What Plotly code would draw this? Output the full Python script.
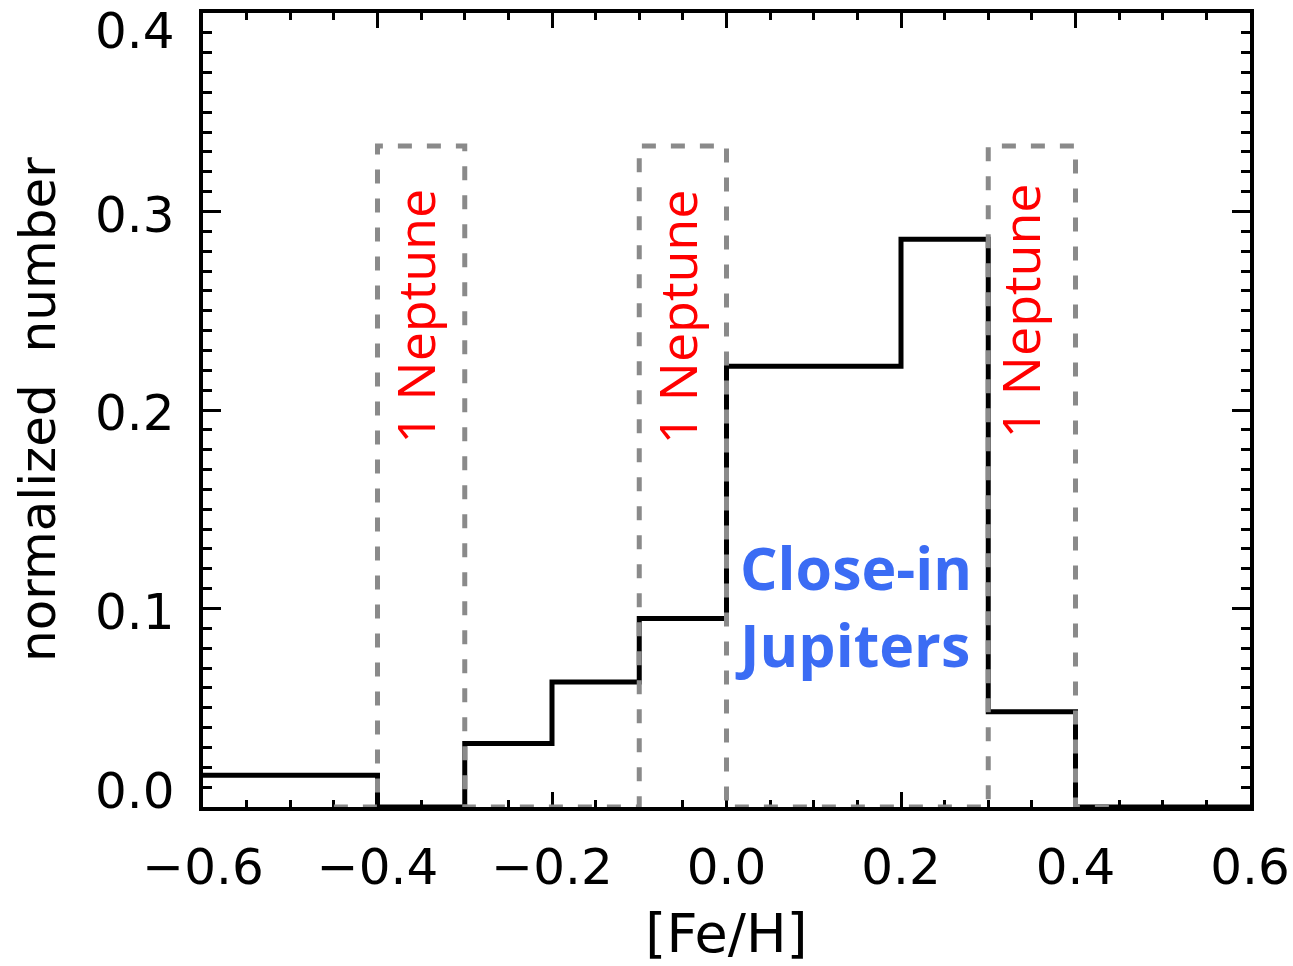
import numpy as np
import plotly.graph_objects as go

# Close-in Jupiter host metallicity histogram (bin width 0.1 dex)
feh_edges = [-0.6, -0.5, -0.4, -0.3, -0.2, -0.1, 0.0, 0.1, 0.2, 0.3, 0.4, 0.5, 0.6]
jupiter_frac = [0.016, 0.016, 0.0, 0.032, 0.063, 0.095, 0.222, 0.222, 0.286, 0.048, 0.0, 0.0]

# Neptune histogram, given at bin centres (drawn as a centred step line)
neptune_centers = [-0.45, -0.35, -0.25, -0.15, -0.05, 0.05, 0.15, 0.25, 0.35, 0.45]
neptune_frac = [0.0, 0.333, 0.0, 0.0, 0.333, 0.0, 0.0, 0.0, 0.333, 0.0]

# Labels for the Neptune boxes: (x, y) in data units
neptune_label_x = [-0.357, -0.057, 0.336]
neptune_label_y = [0.247, 0.247, 0.25]
neptune_label = "1 Neptune"

xtick_vals = [-0.6, -0.4, -0.2, 0.0, 0.2, 0.4, 0.6]
xtick_text = ["\u22120.6", "\u22120.4", "\u22120.2", "0.0", "0.2", "0.4", "0.6"]
ytick_vals = [0.0, 0.1, 0.2, 0.3, 0.4]
ytick_text = ["0.0", "0.1", "0.2", "0.3", "0.4"]

TICK_FONT = dict(family="DejaVu Sans", size=50, color="black")

# step path for the Jupiter histogram (edges -> hv steps)
jx = list(feh_edges)
jy = list(jupiter_frac) + [jupiter_frac[-1]]

# centred step path for the Neptune histogram
nc = np.array(neptune_centers)
mids = list((nc[:-1] + nc[1:]) / 2)
nx = [nc[0]] + mids + [nc[-1]]
ny = [neptune_frac[0]] + list(neptune_frac[1:]) + [neptune_frac[-1]]

fig = go.Figure()
fig.add_trace(go.Scatter(
    x=jx, y=jy, mode="lines", line=dict(shape="hv", color="black", width=5),
    hoverinfo="skip", showlegend=False))
fig.add_trace(go.Scatter(
    x=nx, y=ny, mode="lines",
    line=dict(shape="hv", color="#8a8a8a", width=5, dash="14px,15px"),
    hoverinfo="skip", showlegend=False))

for lx, ly in zip(neptune_label_x, neptune_label_y):
    fig.add_annotation(x=lx, y=ly, xref="x", yref="y", text=neptune_label,
                       textangle=-90, showarrow=False,
                       font=dict(family="Open Sans", size=52, color="#ff0000"))

fig.add_annotation(x=0.145, y=0.1015, xref="x", yref="y",
                   text="<b>Close-in</b><br><b>Jupiters</b>", showarrow=False,
                   align="left",
                   font=dict(family="Open Sans", size=59, color="#3b6cf4"))

# y tick labels, nudged inward at the ends of the axis
y_shift = {0.0: 16, 0.4: -18}
for v, t in zip(ytick_vals, ytick_text):
    fig.add_annotation(x=-0.6, y=v, xref="x", yref="y", text=t, showarrow=False,
                       xanchor="right", xshift=-26, yshift=y_shift.get(v, -3),
                       font=TICK_FONT)

fig.add_annotation(x=-0.6, y=0.2, xref="x", yref="y", text="normalized  number",
                   textangle=-90, showarrow=False, xshift=-165,
                   font=dict(family="DejaVu Sans", size=50, color="black"))

fig.update_xaxes(
    range=[-0.6, 0.6], tickvals=xtick_vals, ticktext=xtick_text,
    ticks="inside", ticklen=15, tickwidth=3, tickcolor="black",
    minor=dict(dtick=0.05, ticks="inside", ticklen=7, tickwidth=3, tickcolor="black"),
    showline=True, linewidth=4, linecolor="black", mirror="allticks",
    showgrid=False, zeroline=False, tickfont=TICK_FONT, ticklabelstandoff=13,
    layer="below traces", automargin=False,
    title=dict(text="[Fe/H]", font=dict(family="DejaVu Sans", size=54, color="black"),
               standoff=20))
fig.update_yaxes(
    range=[0, 0.4], tickvals=ytick_vals, showticklabels=False,
    ticks="inside", ticklen=18, tickwidth=3, tickcolor="black",
    minor=dict(dtick=0.01, ticks="inside", ticklen=9, tickwidth=3, tickcolor="black"),
    showline=True, linewidth=4, linecolor="black", mirror="allticks",
    showgrid=False, zeroline=False, layer="below traces", automargin=False)

fig.update_layout(
    width=1293, height=966,
    margin=dict(l=203, r=43, t=13, b=159),
    plot_bgcolor="white", paper_bgcolor="white",
)

fig.write_html("out.html")
